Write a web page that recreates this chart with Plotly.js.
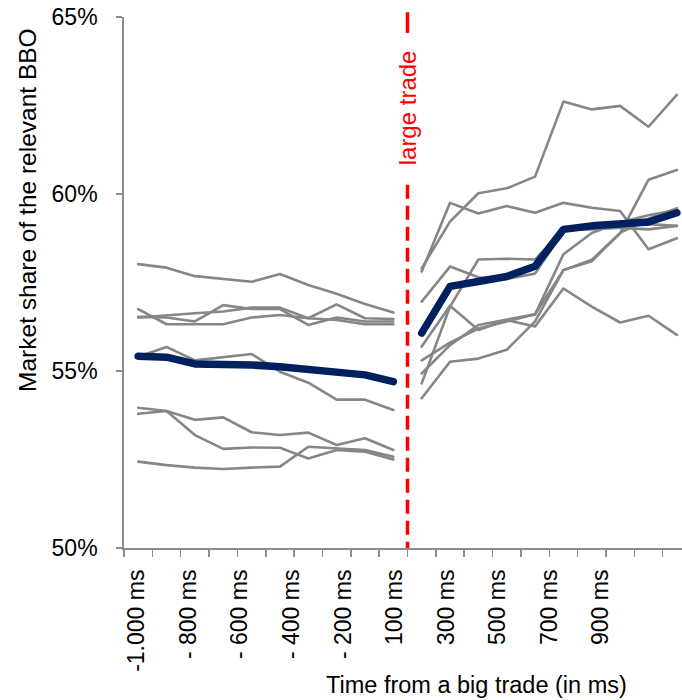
<!DOCTYPE html>
<html><head><meta charset="utf-8">
<script src="https://cdn.plot.ly/plotly-3.0.1.min.js"></script>
<style>html,body{margin:0;padding:0;background:#fff}
.js-line{stroke-linecap:round;stroke-linejoin:round}</style>
</head><body>
<div id="chart" style="width:682px;height:700px"></div>
<script>
// Tick labels (every second slot of the category axis)
const xTickLabels = ['-1.000 ms','-\u00a0800 ms','-\u00a0600 ms','-\u00a0400 ms','-\u00a0200 ms',
                     '100 ms','300 ms','500 ms','700 ms','900 ms'];
const yTickValues = [50, 55, 60, 65];

// Before the large trade (-1000 ms ... -100 ms), market share in %
const beforeA = [58.02, 57.92, 57.68, 57.60, 57.52, 57.74, 57.43, 57.18, 56.89, 56.65];
const beforeP = [56.53, 56.51, 56.40, 56.86, 56.75, 56.75, 56.30, 56.51, 56.40, 56.40];
const beforeQ = [56.51, 56.58, 56.63, 56.68, 56.79, 56.79, 56.49, 56.88, 56.49, 56.47];
const beforeR = [56.75, 56.32, 56.32, 56.32, 56.51, 56.58, 56.49, 56.44, 56.32, 56.32];
const beforeG = [55.40, 55.68, 55.30, 55.38, 55.48, 54.98, 54.67, 54.19, 54.19, 53.90];
const beforeS = [53.96, 53.87, 53.62, 53.69, 53.27, 53.19, 53.26, 52.91, 53.10, 52.77];
const beforeT = [53.79, 53.87, 53.19, 52.80, 52.84, 52.83, 52.53, 52.77, 52.72, 52.50];
const beforeU = [52.44, 52.34, 52.27, 52.23, 52.27, 52.30, 52.86, 52.82, 52.77, 52.58];
const beforeAvg = [55.42, 55.39, 55.20, 55.20, 55.17, 55.12, 55.03, 54.98, 54.89, 54.70];

// After the large trade (100 ms ... 1000 ms)
const afterY = [57.90, 59.22, 60.02, 60.16, 60.49, 62.61, 62.39, 62.49, 61.90, 62.80];
const afterX = [57.81, 59.75, 59.45, 59.66, 59.47, 59.75, 59.61, 59.52, 58.44, 58.75];
const afterZ = [54.93, 55.73, 56.30, 56.44, 56.60, 57.85, 58.14, 58.89, 60.40, 60.68];
const afterL2 = [56.96, 57.95, 57.65, 57.60, 57.75, 58.95, 59.05, 59.10, 59.15, 59.10];
const afterL4 = [54.65, 56.82, 58.15, 58.17, 58.15, 59.00, 59.00, 59.05, 59.00, 59.10];
const afterL5 = [54.23, 55.26, 55.35, 55.60, 56.40, 57.85, 58.10, 58.90, 59.30, 59.60];
const afterL6 = [55.30, 55.80, 56.20, 56.40, 56.60, 58.30, 58.90, 59.20, 59.40, 59.55];
const afterV = [55.69, 56.84, 56.16, 56.44, 56.26, 57.33, 56.82, 56.37, 56.56, 56.02];
const afterAvg = [56.07, 57.39, 57.53, 57.67, 57.96, 59.00, 59.10, 59.17, 59.21, 59.47];

const beforeGrey = [beforeA, beforeP, beforeQ, beforeR, beforeG, beforeS, beforeT, beforeU];
const afterGrey = [afterY, afterX, afterZ, afterL2, afterL4, afterL5, afterL6, afterV];

const n = beforeAvg.length;
const xBefore = beforeAvg.map((_, i) => i);
const xAfter = afterAvg.map((_, i) => i + n);

const GREY = '#868686', NAVY = '#002060', AXIS = '#8c8c8c';
const FONT = 'Liberation Sans, Arial, sans-serif';

const traces = [];
beforeGrey.forEach(s => traces.push({x: xBefore, y: s, type: 'scatter', mode: 'lines',
  line: {color: GREY, width: 2.6}, hoverinfo: 'skip', showlegend: false}));
afterGrey.forEach(s => traces.push({x: xAfter, y: s, type: 'scatter', mode: 'lines',
  line: {color: GREY, width: 2.6}, hoverinfo: 'skip', showlegend: false}));
traces.push({x: xBefore, y: beforeAvg, type: 'scatter', mode: 'lines',
  line: {color: NAVY, width: 7.5}, showlegend: false});
traces.push({x: xAfter, y: afterAvg, type: 'scatter', mode: 'lines',
  line: {color: NAVY, width: 7.5}, showlegend: false});

// label axis: 22 equal slots over the 20 categories, labelled every second slot
const total = 2 * n;
const slot = total / 22;
const labelPos = xTickLabels.map((_, k) => -0.5 + (2 * k + 0.5) * slot);
traces.push({x: labelPos, y: labelPos.map(() => null), xaxis: 'x2', type: 'scatter',
  mode: 'markers', showlegend: false, hoverinfo: 'skip'});

const boundaries = [];
for (let i = 0; i < total; i++) boundaries.push(i - 0.5);
const xRange = [-0.5, -0.5 + total * 558 / 567];
const breakX = n - 0.5;

const layout = {
  width: 682, height: 700,
  margin: {l: 124, r: 0, t: 17, b: 152},
  paper_bgcolor: '#fff', plot_bgcolor: '#fff',
  showlegend: false,
  font: {family: FONT, size: 23, color: '#000'},
  xaxis: {range: xRange, tickmode: 'array', tickvals: boundaries, ticktext: boundaries.map(() => ''),
    ticks: 'outside', ticklen: 7, tickwidth: 1.5, tickcolor: AXIS,
    showline: true, linecolor: AXIS, linewidth: 1.8, showgrid: false, zeroline: false, fixedrange: true},
  xaxis2: {range: xRange, overlaying: 'x', side: 'bottom', anchor: 'y', tickmode: 'array',
    tickvals: labelPos, ticktext: xTickLabels, tickangle: -90, ticks: '', showline: false,
    showgrid: false, zeroline: false, ticklabelstandoff: 16,
    tickfont: {family: FONT, size: 23, color: '#000'}},
  yaxis: {range: [50, 65], tickmode: 'array', tickvals: yTickValues,
    ticktext: yTickValues.map(v => v + '%'), ticks: 'outside', ticklen: 6, tickwidth: 1.5,
    tickcolor: AXIS, showline: true, linecolor: AXIS, linewidth: 1.8, showgrid: false,
    zeroline: false, ticklabelstandoff: 14, tickfont: {family: FONT, size: 23, color: '#000'}},
  shapes: [
    {type: 'line', xref: 'x', yref: 'paper', x0: breakX, x1: breakX, y0: 1.009, y1: 0.97,
      line: {color: '#ff0000', width: 3.5}},
    {type: 'line', xref: 'x', yref: 'paper', x0: breakX, x1: breakX, y0: 0.684, y1: 0,
      line: {color: '#ff0000', width: 3.5, dash: '14px,7px'}}
  ],
  annotations: [
    {text: 'large trade', xref: 'x', yref: 'paper', x: breakX, y: 0.829, textangle: -90,
      xanchor: 'center', yanchor: 'middle',
      showarrow: false, font: {family: FONT, size: 24, color: '#ff0000'}},
    {text: 'Market share of the relevant BBO', xref: 'paper', yref: 'paper', x: -0.174, y: 0.6365,
      xanchor: 'center', yanchor: 'middle',
      textangle: -90, showarrow: false, font: {family: FONT, size: 24.5, color: '#000'}},
    {text: 'Time from a big trade (in ms)', xref: 'paper', yref: 'paper', x: 0.6326, y: -0.258,
      xanchor: 'center', yanchor: 'middle',
      showarrow: false, font: {family: FONT, size: 23.5, color: '#000'}}
  ]
};

Plotly.newPlot('chart', traces, layout, {staticPlot: true, displayModeBar: false});
</script>
</body></html>
